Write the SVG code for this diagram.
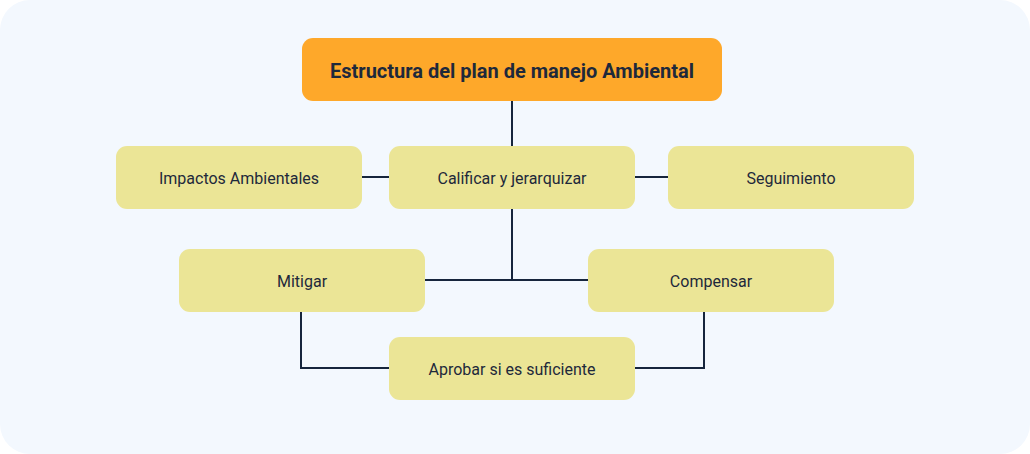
<svg xmlns="http://www.w3.org/2000/svg" width="1030" height="454" viewBox="0 0 1030 454">
<style>
.n{fill:#ebe596}
.t{font-family:Roboto,"Liberation Sans",sans-serif;font-size:16px;fill:#1e293b;text-anchor:middle;dominant-baseline:central}
.c{stroke:#16253d;stroke-width:2;fill:none}
</style>
<rect x="0" y="0" width="1030" height="454" fill="#ffffff"/>
<rect x="0" y="0" width="1030" height="454" rx="30" fill="#f3f8fe"/>
<g id="connectors">
<path class="c" d="M512 101V146"/>
<path class="c" d="M361 177H389"/>
<path class="c" d="M634 177H668"/>
<path class="c" d="M512 209V280M425 280H588"/>
<path class="c" d="M301 312V368H389"/>
<path class="c" d="M704 312V368H634"/>
</g>
<g id="top"><rect x="302" y="38" width="420" height="63" rx="11" fill="#fea82a"/><text class="t" x="512" y="71" style="font-size:20px;font-weight:bold">Estructura del plan de manejo Ambiental</text></g>
<g id="impactos"><rect class="n" x="116" y="146" width="246" height="63" rx="11"/><text class="t" x="239" y="178">Impactos Ambientales</text></g>
<g id="calificar"><rect class="n" x="389" y="146" width="246" height="63" rx="11"/><text class="t" x="512" y="178">Calificar y jerarquizar</text></g>
<g id="seguimiento"><rect class="n" x="668" y="146" width="246" height="63" rx="11"/><text class="t" x="791" y="178">Seguimiento</text></g>
<g id="mitigar"><rect class="n" x="179" y="249" width="246" height="63" rx="11"/><text class="t" x="302" y="281">Mitigar</text></g>
<g id="compensar"><rect class="n" x="588" y="249" width="246" height="63" rx="11"/><text class="t" x="711" y="281">Compensar</text></g>
<g id="aprobar"><rect class="n" x="389" y="337" width="246" height="63" rx="11"/><text class="t" x="512" y="369">Aprobar si es suficiente</text></g>
</svg>
